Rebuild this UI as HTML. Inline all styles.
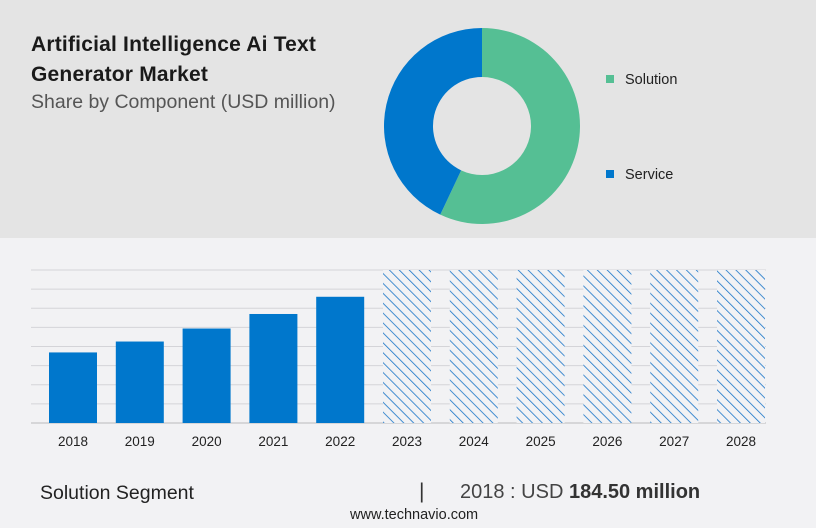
<!DOCTYPE html>
<html><head><meta charset="utf-8"><style>
body{margin:0;width:816px;height:528px;overflow:hidden;background:#f2f2f4;font-family:"Liberation Sans",sans-serif;position:relative}
.topbg{position:absolute;left:0;top:0;width:816px;height:238px;background:#e4e4e4}
.t{position:absolute;color:#222;white-space:nowrap}
</style></head><body>
<div class="topbg"></div>
<div class="t" style="left:31px;top:30px;font-size:21px;font-weight:bold;line-height:30px;color:#1a1a1a;letter-spacing:0.2px">Artificial Intelligence Ai Text<br>Generator Market</div>
<div class="t" style="left:31px;top:91px;font-size:19.5px;color:#555">Share by Component (USD million)</div>
<svg id="donut" width="816" height="528" style="position:absolute;left:0;top:0"></svg>
<svg id="bars" width="816" height="528" style="position:absolute;left:0;top:0">
<defs><pattern id="hatch" patternUnits="userSpaceOnUse" width="7" height="7" patternTransform="rotate(-45)"><rect width="7" height="7" fill="#f2f2f4"/><line x1="0" y1="0" x2="0" y2="7" stroke="#1874c8" stroke-width="1.6"/></pattern></defs>
</svg>
<div class="t" style="left:40px;top:482px;font-size:19.5px;color:#222">Solution Segment</div>
<div class="t" style="left:419px;top:480px;font-size:21px;color:#333">|</div>
<div class="t" style="left:460px;top:481px;font-size:20px;color:#444">2018 : USD <b style="color:#333">184.50 million</b></div>
<div class="t" style="left:350px;top:507px;font-size:14.5px;color:#222">www.technavio.com</div>
<script>
const NS="http://www.w3.org/2000/svg";
const sliceNames=["Solution","Service"];
const sliceValues=[57,43];
const sliceColors=["#55bf94","#0077cc"];
const years=["2018","2019","2020","2021","2022","2023","2024","2025","2026","2027","2028"];
const values=[184.5,213,247,285,330,null,null,null,null,null,null];
const forecast=[false,false,false,false,false,true,true,true,true,true,true];
const yMax=400;
const d=document.getElementById('donut');
const cx=482,cy=126,R=98,r=49;
let tot=sliceValues.reduce((a,b)=>a+b,0),a0=0;
function pt(a,rad){return [cx+rad*Math.sin(a),cy-rad*Math.cos(a)];}
sliceValues.forEach((v,i)=>{
 const a1=a0+v/tot*2*Math.PI,lg=(a1-a0)>Math.PI?1:0;
 const [x1,y1]=pt(a0,R),[x2,y2]=pt(a1,R),[x3,y3]=pt(a1,r),[x4,y4]=pt(a0,r);
 const p=document.createElementNS(NS,'path');
 p.setAttribute('d',`M${x1},${y1}A${R},${R} 0 ${lg} 1 ${x2},${y2}L${x3},${y3}A${r},${r} 0 ${lg} 0 ${x4},${y4}Z`);
 p.setAttribute('fill',sliceColors[i]);
 
 
 d.appendChild(p);a0=a1;
 const ly=[79,174][i];
 const s=document.createElementNS(NS,'rect');
 s.setAttribute('x',606);s.setAttribute('y',ly-4);s.setAttribute('width',8);s.setAttribute('height',8);s.setAttribute('fill',sliceColors[i]);
 
 
 d.appendChild(s);
 const t=document.createElementNS(NS,'text');
 t.setAttribute('x',625);t.setAttribute('y',ly+5);t.setAttribute('font-size','14.5');t.setAttribute('fill','#222');
 t.textContent=sliceNames[i];
 
 
 d.appendChild(t);
});
const b=document.getElementById('bars');
const baseY=423,topY=270,gx0=31,gx1=766;
function yS(v){return baseY-(v/yMax)*(baseY-topY);}
function xc(i){return 73+i*66.8;}
for(let k=0;k<=8;k++){
 const gy=topY+k*(baseY-topY)/8;
 const l=document.createElementNS(NS,'line');
 l.setAttribute('x1',gx0);l.setAttribute('x2',gx1);l.setAttribute('y1',gy);l.setAttribute('y2',gy);
 l.setAttribute('stroke',k==8?'#bbb':'#d4d4d8');l.setAttribute('stroke-width',1);
 
 
 b.appendChild(l);
}
years.forEach((yr,i)=>{
 const bw=48,yy=forecast[i]?topY:yS(values[i]);
 const rc=document.createElementNS(NS,'rect');
 rc.setAttribute('x',xc(i)-bw/2);rc.setAttribute('y',yy);rc.setAttribute('width',bw);rc.setAttribute('height',baseY-yy);
 rc.setAttribute('fill',forecast[i]?'url(#hatch)':'#0077cc');
 
 
 b.appendChild(rc);
 const t=document.createElementNS(NS,'text');
 t.setAttribute('x',xc(i));t.setAttribute('y',446);t.setAttribute('text-anchor','middle');t.setAttribute('font-size','13.5');t.setAttribute('fill','#222');
 t.textContent=yr;
 
 
 b.appendChild(t);
});
</script>
</body></html>
